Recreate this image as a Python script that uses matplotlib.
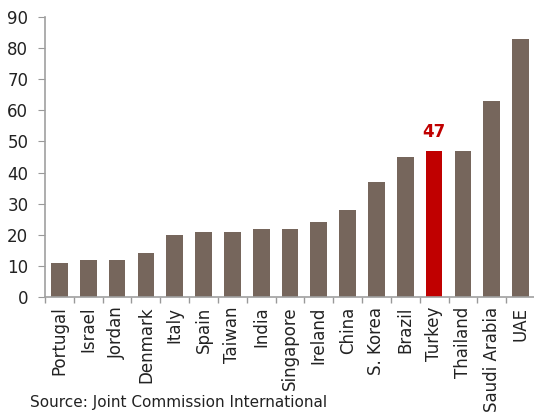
import numpy as np
import matplotlib
matplotlib.use("Agg")
import matplotlib.pyplot as plt

countries = ["Portugal", "Israel", "Jordan", "Denmark", "Italy", "Spain", "Taiwan",
             "India", "Singapore", "Ireland", "China", "S. Korea", "Brazil",
             "Turkey", "Thailand", "Saudi Arabia", "UAE"]
values = [11, 12, 12, 14, 20, 21, 21, 22, 22, 24, 28, 37, 45, 47, 47, 63, 83]
highlight = "Turkey"
y_ticks = [0, 10, 20, 30, 40, 50, 60, 70, 80, 90]
source = "Source: Joint Commission International"

W, H = 534, 417
fig = plt.figure(figsize=(W / 100, H / 100), dpi=100)
ax = fig.add_axes([45 / W, (H - 297) / H, (535 - 45) / W, 280 / H])

base = "#76665C"
red = "#C00000"
x = np.arange(len(countries))
colors = [red if c == highlight else base for c in countries]
ax.bar(x, values, width=0.58, color=colors, zorder=2)

hi = countries.index(highlight)
ax.text(hi, values[hi] + 3.2, str(values[hi]), ha="center", va="bottom",
        color=red, fontsize=12, fontweight="bold")

ax.set_xlim(-0.5, len(countries) - 0.5)
ax.set_ylim(0, 90)
ax.set_yticks(y_ticks)
ax.set_xticks(x)
ax.set_xticklabels(countries, rotation=90, fontsize=12, color="#222222")
ax.set_xticks(np.arange(-0.5, len(countries), 1.0), minor=True)
ax.tick_params(axis="x", which="major", length=0, pad=7)
ax.tick_params(axis="x", which="minor", length=4, color="#999999", width=1)
ax.tick_params(axis="y", length=5, color="#999999", labelsize=12, labelcolor="#222222", pad=7)

for s in ["top", "right"]:
    ax.spines[s].set_visible(False)
for s in ["left", "bottom"]:
    ax.spines[s].set_color("#A0A0A0")
    ax.spines[s].set_linewidth(1.2)

fig.text(30 / W, 1 - 403 / H, source, fontsize=11, color="#222222", va="center", ha="left")

fig.savefig("out.png", dpi=100)
